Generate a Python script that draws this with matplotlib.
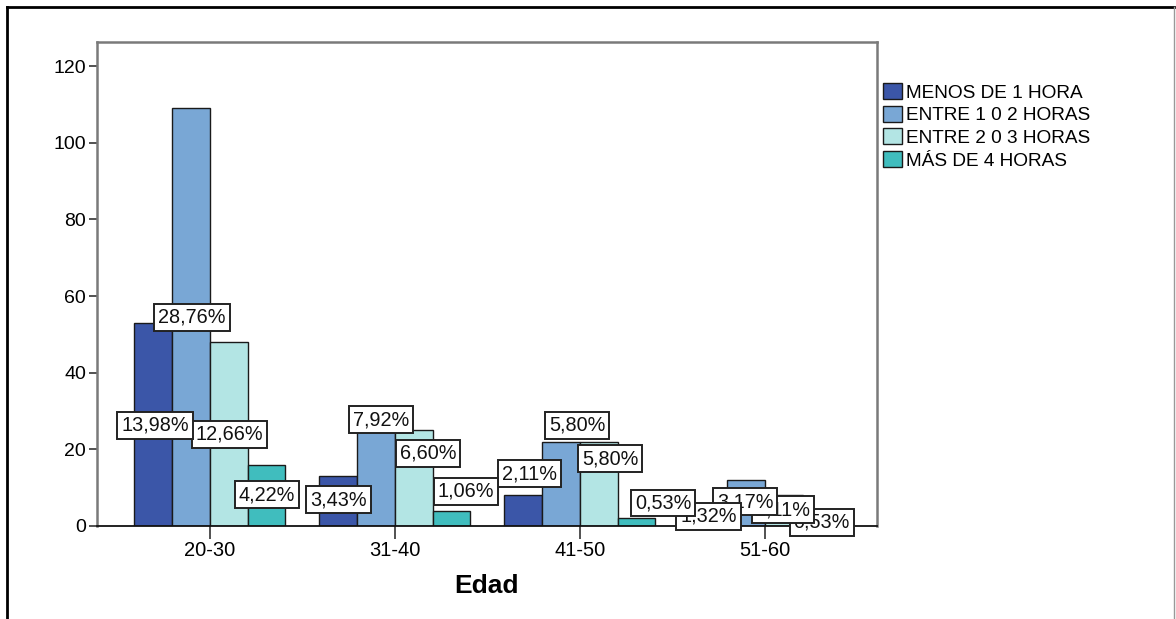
import numpy as np
import matplotlib
matplotlib.use("Agg")
import matplotlib.pyplot as plt
from matplotlib.lines import Line2D

# ------------------------------
# data (counts per age group and time category)
# ------------------------------
age_groups = ["20-30", "31-40", "41-50", "51-60"]
series_names = ["MENOS DE 1 HORA", "ENTRE 1 0 2 HORAS", "ENTRE 2 0 3 HORAS", "MÁS DE 4 HORAS"]
menos_1 = [53, 13, 8, 5]
entre_1_2 = [109, 30, 22, 12]
entre_2_3 = [48, 25, 22, 8]
mas_4 = [16, 4, 2, 2]

colors = ["#3b56a8", "#79a7d5", "#b3e5e4", "#40bdbe"]

# label placement (SPSS style, offsets from bar centre / height in value units)
label_dx = [
    [0.01, 0.005, 0.004, 0.003],
    [0.0, 0.027, 0.076, 0.078],
    [0.035, 0.086, 0.06, 0.143],
    [0.0, -0.005, -0.005, 0.0],
]
label_y = [
    [26.3, 54.5, 24.0, 8.1],
    [6.8, 27.7, 19.0, 9.1],
    [13.6, 26.3, 17.5, 6.0],
    [2.6, 6.3, 4.2, 1.0],
]

plt.rcParams["font.family"] = ["Liberation Sans", "DejaVu Sans"]

fig = plt.figure(figsize=(11.76, 6.19), dpi=100)
ax = fig.add_axes([97 / 1176, 93 / 619, 780 / 1176, 484 / 619])

series = [menos_1, entre_1_2, entre_2_3, mas_4]
total = sum(sum(s) for s in series)
x = np.arange(len(age_groups))
w = 0.204

for i, vals in enumerate(series):
    ax.bar(x + (i - 1.5) * w, vals, width=w, color=colors[i],
           edgecolor="#1a1a1a", linewidth=1.0, label=series_names[i], zorder=2)

# percentage labels, drawn last-first so earlier ones sit on top
labels = []
for g in range(len(age_groups)):
    for i, vals in enumerate(series):
        pct = vals[g] / total * 100
        txt = f"{pct:.2f}%".replace(".", ",")
        labels.append((x[g] + (i - 1.5) * w + label_dx[g][i], label_y[g][i], txt))

for z, (lx, ly, txt) in enumerate(reversed(labels)):
    ax.text(lx, ly, txt, ha="center", va="center", fontsize=14.3, color="#111111",
            zorder=10 + z,
            bbox=dict(boxstyle="square,pad=0.2", facecolor="white",
                      edgecolor="#222222", linewidth=1.4))

ax.set_xlim(-0.61, 3.605)
ax.set_ylim(0, 126.3)
ax.set_yticks([0, 20, 40, 60, 80, 100, 120])
ax.set_xticks(x)
ax.set_xticklabels(age_groups)
ax.tick_params(axis="y", length=6, width=1.2, color="#333333", labelsize=14, pad=2)
ax.tick_params(axis="x", length=9, width=1.2, color="#333333", labelsize=14.5, pad=2)

for s in ["left", "top", "right"]:
    ax.spines[s].set_color("#7a7a7a")
    ax.spines[s].set_linewidth(1.8)
ax.spines["bottom"].set_color("#111111")
ax.spines["bottom"].set_linewidth(1.3)

ax.set_xlabel("Edad", fontsize=19, fontweight="bold", labelpad=10)

ax.legend(loc="upper left", bbox_to_anchor=(1.0077, 0.915), frameon=False,
          fontsize=13.7, handlelength=1.0, handleheight=0.9, handletextpad=0.2,
          labelspacing=0.22, borderaxespad=0, borderpad=0)

# outer frame
fig.add_artist(Line2D([7 / 1176, 7 / 1176], [0, 1 - 7 / 619], color="black", lw=2))
fig.add_artist(Line2D([7 / 1176, 1174 / 1176], [1 - 7 / 619, 1 - 7 / 619], color="black", lw=2))
fig.add_artist(Line2D([1174 / 1176, 1174 / 1176], [0, 1 - 7 / 619], color="#999999", lw=1))

fig.savefig("out.png", dpi=100)
